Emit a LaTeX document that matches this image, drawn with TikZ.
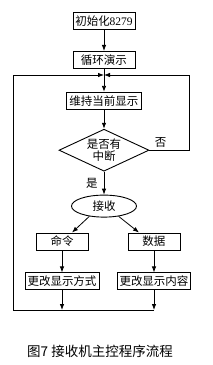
\documentclass[tikz,border=0pt]{standalone}
\usepackage{fontspec}
\newfontfamily\cjk{Noto Sans CJK SC}
\newfontfamily\digitfont{Liberation Serif}
\usetikzlibrary{arrows.meta,positioning,calc,shapes.geometric}
\tikzset{
  stepbox/.style={rectangle, draw=black, line width=0.9pt, minimum height=17pt,
    inner sep=2pt, font=\cjk\fontsize{11.5}{13}\selectfont},
  decide/.style={diamond, draw=black, line width=0.9pt, aspect=2.14, inner sep=0pt,
    minimum width=90pt, minimum height=42pt, align=center,
    font=\cjk\fontsize{11.5}{12}\selectfont},
  term/.style={ellipse, draw=black, line width=0.9pt, inner sep=1pt,
    minimum width=65pt, minimum height=22pt, font=\cjk\fontsize{11.5}{13}\selectfont},
  lbl/.style={inner sep=1pt, font=\cjk\fontsize{11.5}{13}\selectfont},
  caption/.style={inner sep=0pt, font=\cjk\fontsize{13.5}{15}\selectfont},
  flow/.style={-{Latex[length=6pt,width=4.5pt]}, line width=0.8pt, draw=black},
}
\begin{document}
\begin{tikzpicture}[x=1pt,y=1pt,node distance=21pt and 20pt]
  \useasboundingbox (0,0) rectangle (213,-365);
  % main column
  \node[stepbox, minimum width=62pt] (init) at (104,-21) {初始化{\digitfont 8279}};
  \node[stepbox, minimum width=62pt, below=of init] (demo) {循环演示};
  \node[stepbox, minimum width=75pt, below=23pt of demo] (keep) {维持当前显示};
  \node[decide, below=19pt of keep] (irq) {是否有\\中断};
  \node[term, below=23pt of irq] (rcv) {接收};
  % two branches
  \node[stepbox, minimum width=52pt] (cmd) at (62,-241.5) {命令};
  \node[stepbox, minimum width=52pt] (dat) at (154,-241.5) {数据};
  \node[stepbox, minimum width=74pt, below=22pt of cmd] (mode) {更改显示方式};
  \node[stepbox, minimum width=72pt, below=22pt of dat] (cont) {更改显示内容};
  \node[caption] (cap) at (100,-351) {图7 接收机主控程序流程};
  % loop corners
  \coordinate (jn) at (104,-75);
  \coordinate (tl) at (13,-75);
  \coordinate (bl) at (13,-310);
  \coordinate (tr) at (189,-75);
  \coordinate (mr) at (tr |- irq.east);
  \coordinate (b1) at (mode |- bl);
  \coordinate (b2) at (cont |- bl);
  \draw[flow] (init) -- (demo);
  \draw[flow] (demo) -- (keep);
  \draw[flow] (keep) -- (irq);
  \draw[flow] (irq) -- node[lbl, left=5pt, pos=.5] {是} (rcv);
  \draw[flow] (rcv.215) -- ($(cmd.north)+(10,0)$);
  \draw[flow] (rcv.-35) -- ($(dat.north)+(-15,0)$);
  \draw[flow] (cmd) -- (mode);
  \draw[flow] (dat) -- (cont);
  \draw[flow] (mode) -- (b1);
  \draw[flow] (cont) -- (b2);
  \draw[flow] (b2) -- (bl) -- (tl) -- (jn);
  \draw[flow] (irq.east) -- node[lbl, above=1pt, pos=.28] {否} (mr) -- (tr) -- (jn);
\end{tikzpicture}
\end{document}
